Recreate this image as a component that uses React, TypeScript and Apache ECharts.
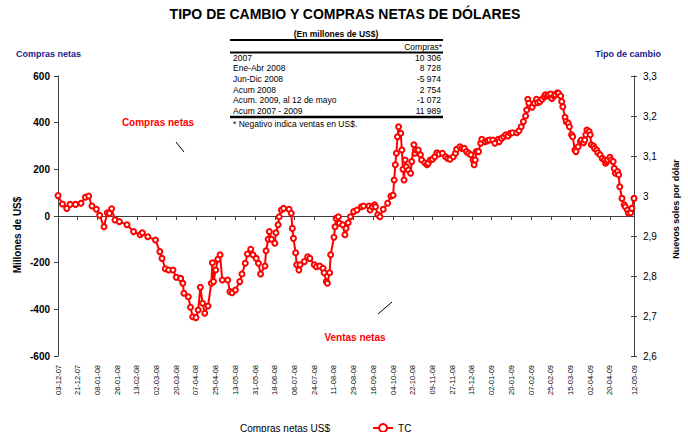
import React, { useEffect, useRef } from "react";
import * as echarts from "echarts";

const FONT = "Arial, 'Liberation Sans', sans-serif";
const TITLE = "TIPO DE CAMBIO Y COMPRAS NETAS DE DÓLARES";
const START = { y: 2007, m: 12, d: 3 };
const END = { y: 2009, m: 5, d: 12 };

const tickLabels = [
  "03-12-07", "21-12-07", "08-01-08", "26-01-08", "13-02-08", "02-03-08",
  "20-03-08", "07-04-08", "25-04-08", "13-05-08", "31-05-08", "18-06-08",
  "06-07-08", "24-07-08", "11-08-08", "29-08-08", "16-09-08", "04-10-08",
  "22-10-08", "09-11-08", "27-11-08", "15-12-08", "02-01-09", "20-01-09",
  "07-02-09", "25-02-09", "15-03-09", "02-04-09", "20-04-09", "12-05-09",
];

// days elapsed since 03-12-07
const tcDays = [
  0, 4, 8, 11, 16, 21, 25, 28, 31, 35,
  38, 42, 45, 47, 49, 52, 56, 63, 69, 75,
  77, 82, 89, 93, 95, 98, 101, 105, 108, 112,
  114, 115, 119, 121, 123, 126, 128, 130, 132, 134,
  137, 140, 141, 142, 144, 146, 148, 150, 155, 157,
  159, 162, 166, 168, 171, 173, 176, 178, 181, 183,
  185, 189, 190, 192, 193, 195, 198, 199, 201, 202,
  204, 206, 211, 213, 214, 215, 217, 218, 220, 221,
  225, 228, 230, 234, 236, 239, 242, 243, 245, 246,
  248, 249, 252, 253, 254, 256, 257, 260, 262, 263,
  265, 267, 270, 273, 277, 279, 284, 285, 287, 289,
  290, 292, 294, 297, 301, 304, 306, 307, 308, 309,
  310, 311, 313, 314, 315, 316, 317, 318, 320, 322,
  323, 325, 326, 327, 329, 331, 332, 335, 337, 338,
  340, 342, 344, 346, 348, 351, 354, 356, 358, 361,
  363, 364, 367, 369, 371, 373, 375, 377, 379, 380,
  381, 382, 384, 386, 387, 390, 392, 394, 397, 399,
  402, 403, 405, 407, 409, 411, 413, 415, 419, 421,
  423, 425, 427, 428, 429, 430, 433, 435, 437, 438,
  440, 442, 444, 445, 447, 448, 450, 451, 453, 454,
  456, 457, 459, 460, 461, 463, 464, 466, 467, 469,
  470, 472, 473, 475, 477, 478, 480, 481, 482, 483,
  485, 486, 487, 489, 490, 492, 493, 495, 497, 499,
  500, 501, 502, 504, 505, 507, 508, 509, 511, 512,
  513, 515, 517, 518, 520, 521, 523, 524, 526,
];

const tcValues = [
  3.001, 2.98, 2.969, 2.979, 2.979, 2.982, 2.997, 3.0, 2.975, 2.967,
  2.952, 2.923, 2.958, 2.957, 2.968, 2.94, 2.936, 2.928, 2.911, 2.903,
  2.908, 2.898, 2.89, 2.861, 2.844, 2.818, 2.815, 2.815, 2.797, 2.794,
  2.782, 2.757, 2.748, 2.722, 2.698, 2.696, 2.715, 2.772, 2.732, 2.707,
  2.725, 2.782, 2.833, 2.786, 2.815, 2.842, 2.853, 2.79, 2.79, 2.761,
  2.758, 2.765, 2.786, 2.805, 2.832, 2.855, 2.867, 2.853, 2.844, 2.832,
  2.805, 2.825, 2.863, 2.892, 2.911, 2.892, 2.882, 2.908, 2.928, 2.948,
  2.965, 2.969, 2.967, 2.957, 2.919, 2.894, 2.858, 2.828, 2.815, 2.828,
  2.836, 2.848, 2.844, 2.828, 2.823, 2.825, 2.819, 2.808, 2.786, 2.782,
  2.808, 2.853, 2.897, 2.923, 2.944, 2.948, 2.932, 2.928, 2.903, 2.919,
  2.933, 2.948, 2.961, 2.965, 2.973, 2.975, 2.975, 2.965, 2.973, 2.978,
  2.973, 2.953, 2.948, 2.967, 2.982, 3.0, 3.002, 3.04, 3.078, 3.107,
  3.148, 3.173, 3.157, 3.115, 3.067, 3.04, 3.09, 3.073, 3.065, 3.057,
  3.086, 3.128, 3.107, 3.115, 3.115, 3.103, 3.09, 3.083, 3.078, 3.082,
  3.09, 3.092, 3.098, 3.108, 3.105, 3.107, 3.098, 3.094, 3.092, 3.098,
  3.107, 3.117, 3.123, 3.119, 3.119, 3.111, 3.107, 3.103, 3.09, 3.078,
  3.09, 3.111, 3.111, 3.132, 3.142, 3.136, 3.138, 3.14, 3.14, 3.132,
  3.142, 3.136, 3.144, 3.148, 3.153, 3.15, 3.157, 3.158, 3.158, 3.163,
  3.173, 3.186, 3.2, 3.215, 3.242, 3.232, 3.222, 3.232, 3.242, 3.233,
  3.236, 3.242, 3.248, 3.253, 3.25, 3.253, 3.255, 3.244, 3.25, 3.253,
  3.258, 3.257, 3.25, 3.236, 3.223, 3.197, 3.186, 3.182, 3.173, 3.153,
  3.148, 3.115, 3.111, 3.123, 3.136, 3.14, 3.133, 3.14, 3.153, 3.165,
  3.161, 3.153, 3.128, 3.125, 3.119, 3.115, 3.108, 3.103, 3.094, 3.09,
  3.082, 3.086, 3.09, 3.097, 3.09, 3.086, 3.069, 3.057, 3.061, 3.053,
  3.023, 2.994, 2.978, 2.973, 2.965, 2.957, 2.958, 2.969, 2.994,
];

const comprasNetas: number[] = [];

const tableLabels = [
  "2007",
  "Ene-Abr 2008",
  "Jun-Dic 2008",
  "Acum 2008",
  "Acum. 2009, al 12 de mayo",
  "Acum 2007 - 2009",
];
const tableValues = ["10 306", "8 728", "-5 974", "2 754", "-1 072", "11 989"];

function buildCategories(): string[] {
  const out: string[] = [];
  const s = Date.UTC(START.y, START.m - 1, START.d);
  const e = Date.UTC(END.y, END.m - 1, END.d);
  const p = (n: number) => (n < 10 ? "0" + n : "" + n);
  for (let t = s; t <= e; t += 86400000) {
    const d = new Date(t);
    out.push(
      p(d.getUTCDate()) + "-" + p(d.getUTCMonth() + 1) + "-" + p(d.getUTCFullYear() % 100)
    );
  }
  return out;
}

export default function App() {
  const ref = useRef<HTMLDivElement>(null);

  useEffect(() => {
    if (!ref.current) return;
    const chart = echarts.init(ref.current, undefined, { renderer: "svg" });
    const categories = buildCategories();
    const labelSet = new Set(tickLabels);
    const axisColor = "#404040";

    const rowY0 = 57.5;
    const rowH = 10.7;
    const tableGraphics: any[] = [];
    tableLabels.forEach((lab, i) => {
      tableGraphics.push({
        type: "text",
        x: 233,
        y: rowY0 + i * rowH,
        style: { text: lab, fill: "#000", font: `8.5px ${FONT}`, align: "left", verticalAlign: "middle" },
      });
      tableGraphics.push({
        type: "text",
        x: 441,
        y: rowY0 + i * rowH,
        style: { text: tableValues[i], fill: "#000", font: `8.5px ${FONT}`, align: "right", verticalAlign: "middle" },
      });
    });

    const option: any = {
      animation: false,
      backgroundColor: "#fff",
      grid: { left: 58, right: 54, top: 76, bottom: 76, containLabel: false },
      legend: {
        left: 210,
        top: 418,
        itemWidth: 20,
        itemHeight: 10,
        itemGap: 42,
        textStyle: { fontSize: 10, fontFamily: FONT, color: "#000" },
        data: ["Compras netas US$", "TC"],
      },
      xAxis: [
        {
          type: "category",
          data: categories,
          boundaryGap: false,
          position: "bottom",
          axisLine: { show: false, onZero: false },
          axisTick: { show: false },
          splitLine: { show: false },
          axisLabel: {
            rotate: 90,
            interval: (_i: number, v: string) => labelSet.has(v),
            fontSize: 7.5,
            fontFamily: FONT,
            color: "#000",
            margin: 9,
          },
        },
        {
          type: "category",
          data: categories,
          boundaryGap: false,
          position: "top",
          axisLine: { show: true, onZero: true, onZeroAxisIndex: 0, lineStyle: { color: axisColor, width: 1 } },
          axisTick: {
            show: true,
            inside: true,
            length: 4,
            interval: (_i: number, v: string) => labelSet.has(v),
            lineStyle: { color: axisColor },
          },
          axisLabel: { show: false },
          splitLine: { show: false },
        },
      ],
      yAxis: [
        {
          type: "value",
          position: "left",
          min: -600,
          max: 600,
          interval: 200,
          axisLine: { show: true, onZero: false, lineStyle: { color: axisColor } },
          axisTick: { show: true, length: 4, lineStyle: { color: axisColor } },
          axisLabel: { fontSize: 10, fontWeight: "bold", fontFamily: FONT, color: "#000", margin: 8 },
          splitLine: { show: false },
        },
        {
          type: "value",
          position: "right",
          min: 2.6,
          max: 3.3,
          interval: 0.1,
          axisLine: { show: true, onZero: false, lineStyle: { color: axisColor } },
          axisTick: { show: true, length: 3, lineStyle: { color: axisColor } },
          axisLabel: {
            fontSize: 10,
            fontFamily: FONT,
            color: "#000",
            margin: 9,
            formatter: (v: number) => String(Math.round(v * 10) / 10).replace(".", ","),
          },
          splitLine: { show: false },
        },
        {
          type: "value",
          position: "right",
          min: 2.6,
          max: 3.3,
          interval: 0.1,
          axisLine: { show: false, onZero: false },
          axisTick: { show: true, inside: true, length: 3, lineStyle: { color: axisColor } },
          axisLabel: { show: false },
          splitLine: { show: false },
        },
      ],
      series: [
        {
          name: "Compras netas US$",
          type: "bar",
          xAxisIndex: 0,
          yAxisIndex: 0,
          data: comprasNetas,
          itemStyle: { color: "rgba(0,0,0,0)" },
        },
        {
          name: "TC",
          type: "line",
          xAxisIndex: 0,
          yAxisIndex: 1,
          data: tcDays.map((d, i) => [d, tcValues[i]]),
          symbol: "emptyCircle",
          symbolSize: 5,
          showSymbol: true,
          showAllSymbol: true,
          lineStyle: { color: "#ff0000", width: 2 },
          itemStyle: { color: "#ff0000", borderColor: "#ff0000", borderWidth: 1 },
        },
      ],
      graphic: [
        {
          type: "text",
          x: 345,
          y: 14,
          style: { text: TITLE, fill: "#000", font: `bold 14px ${FONT}`, align: "center", verticalAlign: "middle" },
        },
        {
          type: "text",
          x: 16,
          y: 54,
          style: { text: "Compras netas", fill: "#1a1a8c", font: `bold 9px ${FONT}`, align: "left", verticalAlign: "middle" },
        },
        {
          type: "text",
          x: 661,
          y: 54,
          style: { text: "Tipo de cambio", fill: "#1a1a8c", font: `bold 9px ${FONT}`, align: "right", verticalAlign: "middle" },
        },
        {
          type: "text",
          x: 17,
          y: 235,
          rotation: Math.PI / 2,
          style: { text: "Millones de US$", fill: "#000", font: `bold 10px ${FONT}`, align: "center", verticalAlign: "middle" },
        },
        {
          type: "text",
          x: 676,
          y: 209,
          rotation: Math.PI / 2,
          style: { text: "Nuevos soles por dólar", fill: "#000", font: `bold 9px ${FONT}`, align: "center", verticalAlign: "middle" },
        },
        {
          type: "text",
          x: 336,
          y: 34,
          style: { text: "(En millones de US$)", fill: "#000", font: `bold 8.5px ${FONT}`, align: "center", verticalAlign: "middle" },
        },
        { type: "line", shape: { x1: 230, y1: 40, x2: 443, y2: 40 }, style: { stroke: "#000", lineWidth: 2 } },
        {
          type: "text",
          x: 442,
          y: 46.5,
          style: { text: "Compras*", fill: "#000", font: `8.5px ${FONT}`, align: "right", verticalAlign: "middle" },
        },
        { type: "line", shape: { x1: 230, y1: 52.5, x2: 443, y2: 52.5 }, style: { stroke: "#000", lineWidth: 2 } },
        ...tableGraphics,
        { type: "line", shape: { x1: 230, y1: 117, x2: 443, y2: 117 }, style: { stroke: "#000", lineWidth: 2.5 } },
        {
          type: "text",
          x: 233,
          y: 123.5,
          style: { text: "* Negativo indica ventas en US$.", fill: "#000", font: `8.5px ${FONT}`, align: "left", verticalAlign: "middle" },
        },
        {
          type: "text",
          x: 158,
          y: 122,
          style: { text: "Compras netas", fill: "#ff0000", font: `bold 10px ${FONT}`, align: "center", verticalAlign: "middle" },
        },
        { type: "line", shape: { x1: 176, y1: 142, x2: 184, y2: 152 }, style: { stroke: "#000", lineWidth: 1 } },
        {
          type: "text",
          x: 355,
          y: 337,
          style: { text: "Ventas netas", fill: "#ff0000", font: `bold 10px ${FONT}`, align: "center", verticalAlign: "middle" },
        },
        { type: "line", shape: { x1: 378, y1: 314, x2: 392, y2: 302 }, style: { stroke: "#000", lineWidth: 1 } },
      ],
    };

    chart.setOption(option);
    return () => chart.dispose();
  }, []);

  return <div ref={ref} style={{ width: 688, height: 432, position: "absolute", left: 0, top: 0 }} />;
}
